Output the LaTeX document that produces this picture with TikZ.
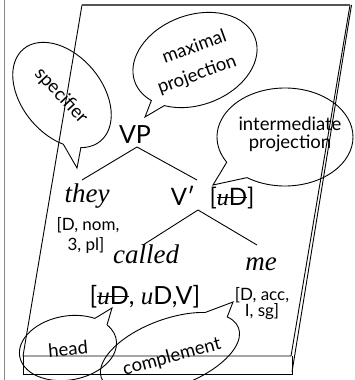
\documentclass[tikz,border=0pt]{standalone}
\usepackage{fontspec}
\setmainfont{Lato}
\newfontfamily\tms{Liberation Serif}
\newcommand\mystrike[1]{\setbox0\hbox{#1}\rlap{\rule[0.38\ht0]{\wd0}{1.3pt}}\box0}
\newcommand\speechbub[8]{%
  \begin{scope}[shift={(#1,#2)},rotate=#5]
    \draw[bubble] (#7:#3 and #4) arc[start angle=#7, end angle=#6+360, x radius=#3, y radius=#4] -- (#8) -- cycle;
  \end{scope}}
\definecolor{edgegray}{HTML}{555555}
\definecolor{pagegray}{HTML}{8A8A8A}
\begin{document}
\begin{tikzpicture}[x=1pt,y=1pt,
  sansbig/.style={font=\fontsize{25}{25}\selectfont, inner sep=0, anchor=base},
  vbar/.style={font=\fontsize{24}{24}\selectfont, inner sep=0, anchor=base},
  word/.style={font=\tms\itshape\fontsize{27}{27}\selectfont, inner sep=0, anchor=base},
  feat/.style={font=\fontsize{17}{17}\selectfont, inner sep=0, anchor=base},
  bubtext/.style={font=\fontsize{18.5}{18.5}\selectfont, inner sep=0},
  edge/.style={draw=black, line width=0.9pt},
  bubble/.style={draw=black, line width=0.9pt},
  slab/.style={draw=black, line width=0.9pt}]
\useasboundingbox (0,0) rectangle (354,-380);
\clip (0,0) rectangle (354,-380);
% page edge
\draw[pagegray, line width=1.2pt] (4.5,0) -- (4.5,-380);
% slab
\draw[slab] (82,-5) -- (23,-356) -- (291,-356) -- (350,-5);
\draw[edgegray, line width=1.6pt] (82,-5) -- (350,-5);
\draw[slab] (351.5,-5) -- (292,-372);
\draw[slab] (23,-356) -- (23,-374) -- (292,-374) -- (292,-356);
% tree text
\node[sansbig] (VP) at (135,-143) {VP};
\node[word] (they) at (87,-202) {they};
\node[feat] (they1) at (88,-230) {[D, nom,};
\node[feat] (they2) at (86,-250) {3, pl]};
\node[vbar] (Vbar) at (183,-205) {V\char"2032};
\node[vbar] (Vfeat) at (232,-205) {[\mystrike{{\tms\itshape u}D}]};
\node[word] (called) at (146,-263) {called};
\node[word] (me) at (261,-270) {me};
\node[sansbig] (Vf) at (145,-304) {[\mystrike{{\tms\itshape u}D}, {\tms\itshape u}D,V]};
\node[feat] (me1) at (262,-300) {[D, acc,};
\node[feat] (me2) at (262,-316) {I, sg]};
% tree connectors
\coordinate (VPfoot) at (137,-147);
\coordinate (theyTop) at (82,-180);
\coordinate (VbarTop) at (197,-180);
\coordinate (VbarFoot) at (198,-210);
\coordinate (calledTop) at (143,-245);
\coordinate (meTop) at (257,-245);
\draw[edge] (VPfoot) -- (theyTop);
\draw[edge] (VPfoot) -- (VbarTop);
\draw[edge] (VbarFoot) -- (calledTop);
\draw[edge] (VbarFoot) -- (meTop);
% bubbles
\coordinate (tipSpec) at (77,-168);
\coordinate (tipMax) at (145,-117);
\coordinate (tipInt) at (213,-185);
\coordinate (tipHead) at (112,-308);
\coordinate (tipComp) at (233,-302);
\speechbub{62}{-95}{60}{40}{-50}{-50}{-29}{tipSpec}
\speechbub{195}{-60}{64}{45}{20}{211}{226}{tipMax}
\speechbub{285}{-137}{68}{49}{0}{211}{236}{tipInt}
\speechbub{68}{-348}{49}{32}{10}{30}{50}{tipHead}
\speechbub{170}{-353}{73}{34}{20}{25}{50}{tipComp}
\node[bubtext, rotate=-47] (spec) at (61,-96) {specifier};
\node[bubtext, rotate=20] (max1) at (194,-46) {maximal};
\node[bubtext, rotate=20] (max2) at (197,-75) {projection};
\node[bubtext, anchor=base] (int1) at (290,-130) {intermediate};
\node[bubtext, anchor=base] (int2) at (290,-148) {projection};
\node[bubtext, rotate=5] (head) at (68,-349) {head};
\node[bubtext, rotate=15] (comp) at (172,-357) {complement};
\end{tikzpicture}
\end{document}
